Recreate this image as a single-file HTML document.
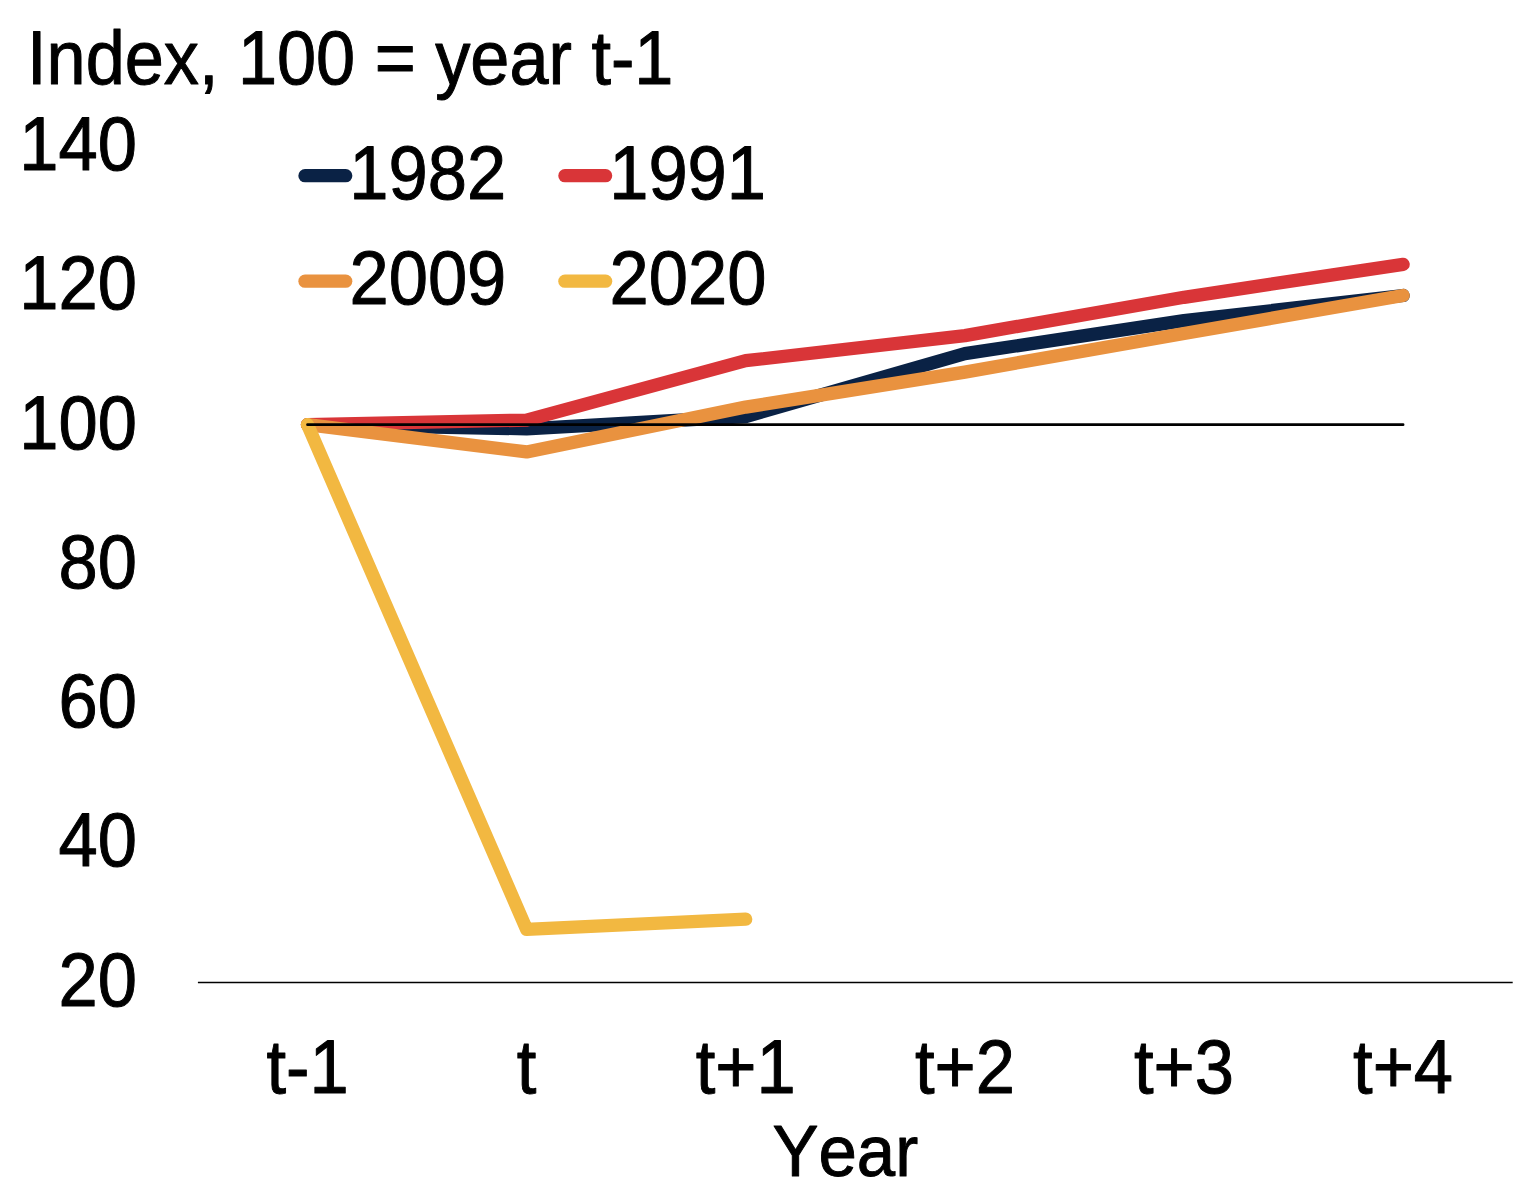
<!DOCTYPE html>
<html lang="en"><head><meta charset="utf-8"><title>Index, 100 = year t-1</title>
<style>html,body{margin:0;padding:0;background:#fff;}svg{display:block;}</style>
</head><body>
<svg width="1522" height="1202" viewBox="0 0 1522 1202">
<rect width="1522" height="1202" fill="#ffffff"/>
<line x1="197.9" y1="982.4" x2="1512.7" y2="982.4" stroke="#000" stroke-width="1.5"/>
<polyline points="307.5,424.7 526.6,428.8 745.7,416.5 964.9,353.6 1184.0,320.7 1403.1,295.5" fill="none" stroke="#0a2245" stroke-width="13.3" stroke-linecap="round" stroke-linejoin="round"/>
<polyline points="307.5,424.7 526.6,420.1 745.7,360.7 964.9,335.6 1184.0,297.3 1403.1,264.3" fill="none" stroke="#d93538" stroke-width="13.3" stroke-linecap="round" stroke-linejoin="round"/>
<polyline points="307.5,424.7 526.6,451.9 745.7,407.1 964.9,372.1 1184.0,333.5 1403.1,295.5" fill="none" stroke="#e9923f" stroke-width="13.3" stroke-linecap="round" stroke-linejoin="round"/>
<polyline points="307.5,424.7 526.6,929.3 745.7,919.2" fill="none" stroke="#f2b841" stroke-width="13.3" stroke-linecap="round" stroke-linejoin="round"/>
<line x1="307.5" y1="424.7" x2="1403.1" y2="424.7" stroke="#000" stroke-width="2.7" stroke-linecap="round"/>
<line x1="305.0" y1="175.7" x2="345.7" y2="175.7" stroke="#0a2245" stroke-width="13.3" stroke-linecap="round"/>
<line x1="564.9" y1="175.7" x2="605.6" y2="175.7" stroke="#d93538" stroke-width="13.3" stroke-linecap="round"/>
<line x1="305.0" y1="281.2" x2="345.7" y2="281.2" stroke="#e9923f" stroke-width="13.3" stroke-linecap="round"/>
<line x1="564.9" y1="281.2" x2="605.6" y2="281.2" stroke="#f2b841" stroke-width="13.3" stroke-linecap="round"/>
<g font-family="'Liberation Sans', Arial, Helvetica, sans-serif" fill="#000" stroke="#000" stroke-width="1" stroke-linejoin="round" style="white-space:pre;font-kerning:none">
<text x="27.1" y="84.2" font-size="75.6" textLength="646.3" lengthAdjust="spacingAndGlyphs">Index, 100 = year t-1</text>
<text x="19.3" y="169.9" font-size="75.6" textLength="117.6" lengthAdjust="spacingAndGlyphs">140</text>
<text x="19.3" y="309.2" font-size="75.6" textLength="117.6" lengthAdjust="spacingAndGlyphs">120</text>
<text x="19.3" y="448.5" font-size="75.6" textLength="117.6" lengthAdjust="spacingAndGlyphs">100</text>
<text x="58.5" y="587.8" font-size="75.6" textLength="78.4" lengthAdjust="spacingAndGlyphs">80</text>
<text x="58.5" y="727.1" font-size="75.6" textLength="78.4" lengthAdjust="spacingAndGlyphs">60</text>
<text x="58.5" y="866.4" font-size="75.6" textLength="78.4" lengthAdjust="spacingAndGlyphs">40</text>
<text x="58.5" y="1005.7" font-size="75.6" textLength="78.4" lengthAdjust="spacingAndGlyphs">20</text>
<text x="266.4" y="1092.9" font-size="75.6" textLength="82.3" lengthAdjust="spacingAndGlyphs">t-1</text>
<text x="516.8" y="1092.9" font-size="75.6" textLength="19.6" lengthAdjust="spacingAndGlyphs">t</text>
<text x="695.7" y="1092.9" font-size="75.6" textLength="100.0" lengthAdjust="spacingAndGlyphs">t+1</text>
<text x="914.9" y="1092.9" font-size="75.6" textLength="100.0" lengthAdjust="spacingAndGlyphs">t+2</text>
<text x="1134.0" y="1092.9" font-size="75.6" textLength="100.0" lengthAdjust="spacingAndGlyphs">t+3</text>
<text x="1353.1" y="1092.9" font-size="75.6" textLength="100.0" lengthAdjust="spacingAndGlyphs">t+4</text>
<text x="772.5" y="1176.0" font-size="72.6" textLength="145.7" lengthAdjust="spacingAndGlyphs">Year</text>
<text x="349.3" y="198.9" font-size="75.6" textLength="156.8" lengthAdjust="spacingAndGlyphs">1982</text>
<text x="609.2" y="198.9" font-size="75.6" textLength="156.8" lengthAdjust="spacingAndGlyphs">1991</text>
<text x="349.5" y="304.4" font-size="75.6" textLength="156.8" lengthAdjust="spacingAndGlyphs">2009</text>
<text x="609.6" y="304.4" font-size="75.6" textLength="156.8" lengthAdjust="spacingAndGlyphs">2020</text>
</g></svg>
</body></html>
